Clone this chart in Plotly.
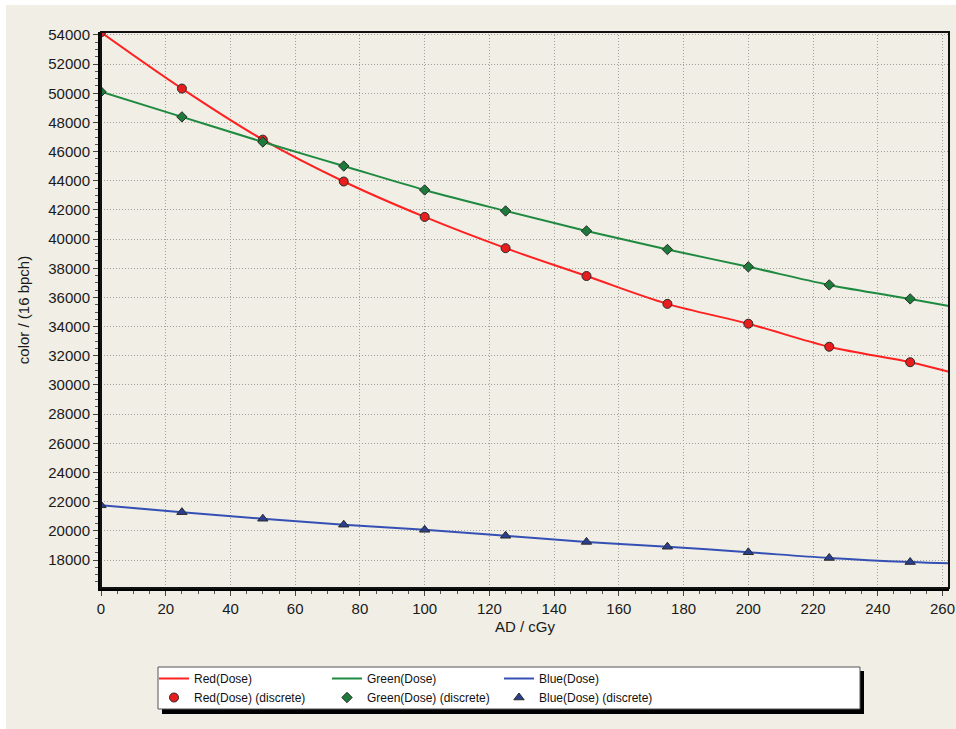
import plotly.graph_objects as go

# Dose points (cGy) and measured channel values (16 bits per channel)
dose = [0, 25, 50, 75, 100, 125, 150, 175, 200, 225, 250]
red_vals = [54180, 50320, 46820, 43950, 41520, 39380, 37470, 35560, 34200, 32620, 31560]
green_vals = [50100, 48380, 46660, 45010, 43370, 41930, 40560, 39290, 38100, 36860, 35900]
blue_vals = [21750, 21280, 20830, 20420, 20070, 19660, 19240, 18910, 18530, 18140, 17860]

# Fitted curves extend to the right edge of the axis
curve_x = dose + [262]
red_curve = red_vals + [30900]
green_curve = green_vals + [35420]
blue_curve = blue_vals + [17770]

W, H = 956, 729
L, R, T, B = 101, 7, 32, 141
PW, PH = W - L - R, H - T - B
BEIGE = "#F0EEE5"
FONT = "Liberation Sans, Arial, sans-serif"


def px(x):
    return (x - L) / PW


def py(y):
    return (H - B - y) / PH


fig = go.Figure()

series = [
    ("Red", red_vals, red_curve, "#FF2020", "circle", 9, "#E81E1E", "legend"),
    ("Green", green_vals, green_curve, "#1E8A40", "diamond", 8, "#1E7A3A", "legend2"),
    ("Blue", blue_vals, blue_curve, "#3550B5", "triangle-up", 9, "#2A3F8F", "legend3"),
]

for name, vals, curve, lc, sym, size, fc, lg in series:
    fig.add_trace(go.Scatter(
        x=curve_x, y=curve, mode="lines", name=f"{name}(Dose)",
        line=dict(color=lc, width=2, shape="spline"), legend=lg,
    ))
    fig.add_trace(go.Scatter(
        x=dose, y=vals, mode="markers", name=f"{name}(Dose) (discrete)",
        marker=dict(symbol=sym, size=size, color=fc,
                    line=dict(color="#2A2A2A", width=1)),
        legend=lg, cliponaxis=True,
    ))

shapes = [
    # thin white border along the top and left edges
    dict(type="rect", xref="paper", yref="paper", layer="below",
         x0=px(-2), x1=px(6), y0=py(740), y1=py(-2),
         fillcolor="#FFFFFF", line=dict(width=0)),
    dict(type="rect", xref="paper", yref="paper", layer="below",
         x0=px(-2), x1=px(960), y0=py(5), y1=py(-2),
         fillcolor="#FFFFFF", line=dict(width=0)),
    # plot frame
    dict(type="rect", xref="paper", yref="paper", layer="above",
         x0=0, x1=1, y0=0, y1=1, line=dict(color="#111111", width=2)),
    # legend box shadow and box
    dict(type="rect", xref="paper", yref="paper", layer="above",
         x0=px(162), x1=px(864), y0=py(714), y1=py(671),
         fillcolor="#000000", line=dict(width=0)),
    dict(type="rect", xref="paper", yref="paper", layer="above",
         x0=px(158), x1=px(860), y0=py(709), y1=py(667),
         fillcolor="#FFFFFF", line=dict(color="#555555", width=1)),
]

legend_common = dict(
    orientation="v", yanchor="top", xanchor="left",
    bgcolor="rgba(0,0,0,0)", borderwidth=0, tracegroupgap=0,
    font=dict(family=FONT, size=12, color="#111111"),
)

grid_style = dict(showgrid=True, gridcolor="#A0A0A0", griddash="1px,2px", gridwidth=1)

fig.update_layout(
    width=W, height=H,
    margin=dict(l=L, r=R, t=T, b=B, pad=0, autoexpand=False),
    paper_bgcolor=BEIGE,
    plot_bgcolor=BEIGE,
    font=dict(family=FONT, size=15, color="#1A1A1A"),
    shapes=shapes,
    showlegend=True,
    legend=dict(x=px(154), y=py(664), **legend_common),
    legend2=dict(x=px(327), y=py(664), **legend_common),
    legend3=dict(x=px(499), y=py(664), **legend_common),
    xaxis=dict(
        range=[0, 262], tick0=0, dtick=20, automargin=False,
        title=dict(text="AD / cGy", font=dict(size=15), standoff=6),
        showline=True, linecolor="#000000", linewidth=3,
        ticks="outside", ticklen=5, tickcolor="#444444", tickwidth=1,
        zeroline=False,
        minor=dict(dtick=5, ticks="outside", ticklen=3, tickcolor="#555555", showgrid=False),
        **grid_style,
    ),
    yaxis=dict(
        range=[16080, 54200], tick0=0, dtick=2000, automargin=False,
        title=dict(text="color / (16 bpch)", font=dict(size=15), standoff=16),
        showline=True, linecolor="#000000", linewidth=3,
        ticks="outside", ticklen=5, tickcolor="#444444", tickwidth=1,
        zeroline=False, tickformat="d",
        minor=dict(dtick=500, ticks="outside", ticklen=3, tickcolor="#555555", showgrid=False),
        **grid_style,
    ),
)

fig.write_html("out.html")
